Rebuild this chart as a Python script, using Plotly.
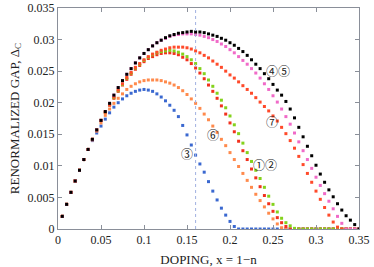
import plotly.graph_objects as go

doping = [0.005, 0.010, 0.015, 0.020, 0.025, 0.030, 0.035, 0.040, 0.045, 0.050,
          0.055, 0.060, 0.065, 0.070, 0.075, 0.080, 0.085, 0.090, 0.095, 0.100,
          0.105, 0.110, 0.115, 0.120, 0.125, 0.130, 0.135, 0.140, 0.145, 0.150,
          0.155, 0.160, 0.165, 0.170, 0.175, 0.180, 0.185, 0.190, 0.195, 0.200,
          0.205, 0.210, 0.215, 0.220, 0.225, 0.230, 0.235, 0.240, 0.245, 0.250,
          0.255, 0.260, 0.265, 0.270, 0.275, 0.280, 0.285, 0.290, 0.295, 0.300,
          0.305, 0.310, 0.315, 0.320, 0.325, 0.330, 0.335, 0.340, 0.345, 0.350]

gap_3_blue = [0.0020, 0.0039, 0.0058, 0.0076, 0.0093, 0.0110, 0.0126, 0.0140, 0.0152, 0.0163,
              0.0174, 0.0184, 0.0193, 0.0200, 0.0206, 0.0211, 0.0215, 0.0218, 0.0220, 0.0221,
              0.0220, 0.0218, 0.0214, 0.0209, 0.0203, 0.0196, 0.0188, 0.0178, 0.0164, 0.0149,
              0.0133, 0.0117, 0.0103, 0.0090, 0.0075, 0.0060, 0.0046, 0.0033, 0.0022, 0.0012,
              0.0004, 0, 0, 0, 0, 0, 0, 0, 0, 0,
              0, 0, 0, 0, 0, 0, 0, 0, 0, 0,
              0, 0, 0, 0, 0, 0, 0, 0, 0, 0]

gap_6_orange = [0.0020, 0.0039, 0.0058, 0.0076, 0.0093, 0.0110, 0.0126, 0.0141, 0.0155, 0.0168,
                0.0180, 0.0190, 0.0199, 0.0207, 0.0214, 0.0221, 0.0226, 0.0230, 0.0233, 0.0235,
                0.0236, 0.0236, 0.0236, 0.0235, 0.0233, 0.0231, 0.0228, 0.0224, 0.0219, 0.0213,
                0.0206, 0.0199, 0.0191, 0.0182, 0.0173, 0.0163, 0.0153, 0.0142, 0.0132, 0.0121,
                0.0110, 0.0099, 0.0088, 0.0077, 0.0066, 0.0055, 0.0045, 0.0035, 0.0025, 0.0016,
                0.0008, 0.0002, 0, 0, 0, 0, 0, 0, 0, 0,
                0, 0, 0, 0, 0, 0, 0, 0, 0, 0]

gap_1_red = [0.0020, 0.0039, 0.0058, 0.0076, 0.0093, 0.0110, 0.0126, 0.0142, 0.0157, 0.0172,
             0.0185, 0.0196, 0.0207, 0.0218, 0.0228, 0.0237, 0.0245, 0.0253, 0.0259, 0.0265,
             0.0270, 0.0273, 0.0276, 0.0278, 0.0279, 0.0279, 0.0278, 0.0276, 0.0272, 0.0268,
             0.0262, 0.0255, 0.0247, 0.0238, 0.0228, 0.0218, 0.0207, 0.0195, 0.0182, 0.0168,
             0.0154, 0.0139, 0.0124, 0.0110, 0.0095, 0.0081, 0.0067, 0.0053, 0.0040, 0.0028,
             0.0018, 0.0010, 0.0004, 0, 0, 0, 0, 0, 0, 0,
             0, 0, 0, 0, 0, 0, 0, 0, 0, 0]

gap_2_green = [0.0020, 0.0039, 0.0058, 0.0076, 0.0093, 0.0110, 0.0126, 0.0142, 0.0157, 0.0172,
               0.0185, 0.0197, 0.0208, 0.0219, 0.0229, 0.0239, 0.0247, 0.0255, 0.0261, 0.0267,
               0.0272, 0.0276, 0.0279, 0.0281, 0.0282, 0.0283, 0.0282, 0.0280, 0.0277, 0.0273,
               0.0268, 0.0262, 0.0254, 0.0246, 0.0236, 0.0226, 0.0215, 0.0204, 0.0192, 0.0179,
               0.0165, 0.0151, 0.0136, 0.0121, 0.0107, 0.0093, 0.0080, 0.0066, 0.0052, 0.0039,
               0.0027, 0.0017, 0.0010, 0.0005, 0.0001, 0, 0, 0, 0, 0,
               0, 0, 0, 0, 0, 0, 0, 0, 0, 0]

gap_7_red = [0.0020, 0.0039, 0.0058, 0.0076, 0.0093, 0.0110, 0.0126, 0.0142, 0.0157, 0.0172,
             0.0185, 0.0197, 0.0209, 0.0220, 0.0230, 0.0240, 0.0248, 0.0256, 0.0262, 0.0268,
             0.0273, 0.0277, 0.0280, 0.0283, 0.0285, 0.0287, 0.0288, 0.0288, 0.0288, 0.0287,
             0.0285, 0.0282, 0.0279, 0.0275, 0.0271, 0.0266, 0.0261, 0.0256, 0.0250, 0.0244,
             0.0239, 0.0233, 0.0227, 0.0221, 0.0215, 0.0208, 0.0201, 0.0194, 0.0187, 0.0179,
             0.0171, 0.0161, 0.0151, 0.0140, 0.0128, 0.0115, 0.0102, 0.0088, 0.0074, 0.0060,
             0.0047, 0.0034, 0.0022, 0.0011, 0.0003, 0, 0, 0, 0, 0]

gap_5_pink = [0.0020, 0.0039, 0.0058, 0.0076, 0.0093, 0.0110, 0.0126, 0.0142, 0.0157, 0.0172,
              0.0186, 0.0199, 0.0212, 0.0224, 0.0235, 0.0245, 0.0254, 0.0263, 0.0271, 0.0278,
              0.0284, 0.0290, 0.0295, 0.0299, 0.0302, 0.0305, 0.0307, 0.0308, 0.0309, 0.0309,
              0.0309, 0.0308, 0.0307, 0.0305, 0.0303, 0.0300, 0.0297, 0.0293, 0.0289, 0.0284,
              0.0279, 0.0273, 0.0267, 0.0261, 0.0254, 0.0247, 0.0239, 0.0230, 0.0221, 0.0211,
              0.0201, 0.0190, 0.0178, 0.0166, 0.0152, 0.0138, 0.0124, 0.0110, 0.0096, 0.0082,
              0.0069, 0.0056, 0.0044, 0.0032, 0.0020, 0.0009, 0, 0, 0, 0]

gap_4_black = [0.0020, 0.0039, 0.0058, 0.0076, 0.0093, 0.0110, 0.0126, 0.0142, 0.0157, 0.0172,
               0.0186, 0.0199, 0.0212, 0.0224, 0.0235, 0.0245, 0.0254, 0.0263, 0.0271, 0.0278,
               0.0284, 0.0290, 0.0295, 0.0299, 0.0303, 0.0306, 0.0308, 0.0310, 0.0311, 0.0312,
               0.0313, 0.0312, 0.0312, 0.0311, 0.0309, 0.0307, 0.0305, 0.0302, 0.0299, 0.0295,
               0.0291, 0.0286, 0.0281, 0.0275, 0.0268, 0.0261, 0.0254, 0.0246, 0.0238, 0.0229,
               0.0220, 0.0212, 0.0202, 0.0190, 0.0176, 0.0161, 0.0146, 0.0131, 0.0116, 0.0101,
               0.0087, 0.0074, 0.0062, 0.0051, 0.0040, 0.0030, 0.0021, 0.0014, 0.0007, 0.0000]

optimal_doping = 0.16

x_ticks = [0, 0.05, 0.1, 0.15, 0.2, 0.25, 0.3, 0.35]
x_tick_labels = ["0", "0.05", "0.1", "0.15", "0.2", "0.25", "0.3", "0.35"]
y_ticks = [0, 0.005, 0.01, 0.015, 0.02, 0.025, 0.03, 0.035]
y_tick_labels = ["0", "0.005", "0.01", "0.015", "0.02", "0.025", "0.03", "0.035"]

series = [
    ("③", gap_3_blue, "#3a68d0"),
    ("⑥", gap_6_orange, "#ff8a4c"),
    ("①", gap_1_red, "#f2311e"),
    ("②", gap_2_green, "#84d21c"),
    ("⑦", gap_7_red, "#ff4a2a"),
    ("⑤", gap_5_pink, "#f06ac8"),
    ("④", gap_4_black, "#000000"),
]

labels = [
    ("④⑤", 0.2560, 0.0251),
    ("⑦", 0.2485, 0.0170),
    ("⑥", 0.1806, 0.0149),
    ("③", 0.1504, 0.0120),
    ("①②", 0.2410, 0.0102),
]

SERIF = "Liberation Serif, Times New Roman, serif"

fig = go.Figure()
for name, vals, color in series:
    fig.add_trace(go.Scatter(
        x=doping, y=vals, mode="markers", name=name,
        marker=dict(symbol="square", size=3, color=color, line=dict(width=0)),
        showlegend=False,
    ))

fig.add_vline(x=optimal_doping, line=dict(color="#a0b0e0", width=1, dash="dot"))

for text, lx, ly in labels:
    fig.add_annotation(x=lx, y=ly, text=text, showarrow=False,
                       font=dict(family="Noto Sans CJK JP", size=12, color="#222"))

axis_common = dict(
    showgrid=False, zeroline=False, showline=True, linecolor="#8a8f99", linewidth=1,
    mirror="ticks", ticks="inside", ticklen=4, tickcolor="#8a8f99",
    tickfont=dict(family=SERIF, size=12, color="#222"),
)

fig.update_xaxes(range=[0, 0.35], tickvals=x_ticks, ticktext=x_tick_labels,
                 title=dict(text="DOPING, x = 1\u2212n", standoff=9,
                            font=dict(family=SERIF, size=13, color="#222")),
                 **axis_common)
fig.update_yaxes(range=[0, 0.035], tickvals=y_ticks, ticktext=y_tick_labels,
                 title=dict(text="RENORMALIZED GAP, \u0394<sub>C</sub>", standoff=5,
                            font=dict(family=SERIF, size=13, color="#222")),
                 **axis_common)

fig.update_layout(
    width=374, height=267,
    margin=dict(l=58, r=15, t=8, b=38, autoexpand=False),
    paper_bgcolor="white", plot_bgcolor="white",
)

fig.write_html("out.html", config={"displayModeBar": False},
               post_script="document.body.style.margin='0';document.body.style.padding='0';")
